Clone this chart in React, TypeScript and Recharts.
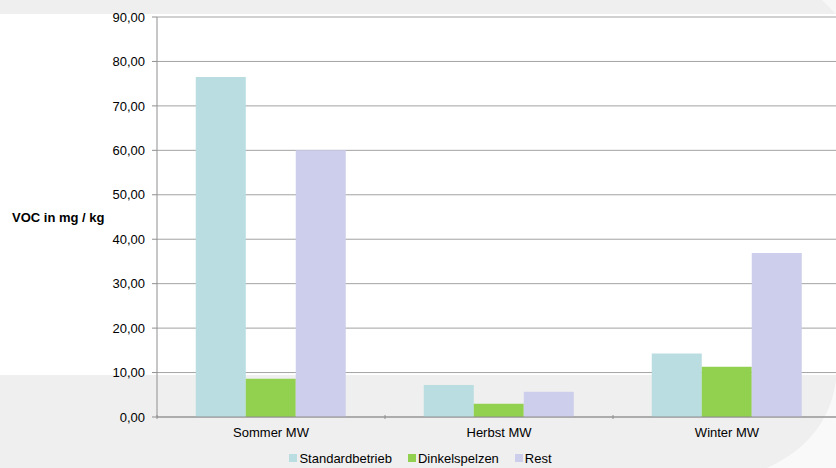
import { BarChart, Bar, XAxis, YAxis, CartesianGrid, Legend } from 'recharts';

const categories = ['Sommer MW', 'Herbst MW', 'Winter MW'];
const standardbetrieb = [76.5, 7.2, 14.3];
const dinkelspelzen = [8.6, 3.0, 11.3];
const rest = [60.0, 5.7, 36.9];
const yTicks = [0, 10, 20, 30, 40, 50, 60, 70, 80, 90];

const series = [
  { key: 'standardbetrieb', name: 'Standardbetrieb', color: '#b9dde1' },
  { key: 'dinkelspelzen', name: 'Dinkelspelzen', color: '#92d050' },
  { key: 'rest', name: 'Rest', color: '#cdcdec' },
];

const data = categories.map((name, i) => ({
  name,
  standardbetrieb: standardbetrieb[i],
  dinkelspelzen: dinkelspelzen[i],
  rest: rest[i],
}));

const FONT = '"Liberation Sans", Arial, sans-serif';
const AXIS = '#8f8f8f';
const formatDE = (v: number) => v.toFixed(2).replace('.', ',');

// category label plus a small tick mark on the left band boundary
function CategoryTick(props: any) {
  const { x, y, payload } = props;
  const half = payload?.offset ?? 0;
  return (
    <g>
      <line x1={x - half} x2={x - half} y1={415} y2={419} stroke={AXIS} />
      <text x={x} y={y} dy="0.71em" textAnchor="middle" fontSize={13} fontFamily={FONT} fill="#000">
        {payload.value}
      </text>
    </g>
  );
}

function LegendContent() {
  return (
    <div style={{ display: 'flex', justifyContent: 'center', gap: 16, fontFamily: FONT, fontSize: 13, color: '#000', height: 18, alignItems: 'center' }}>
      {series.map((s) => (
        <div key={s.key} style={{ display: 'flex', alignItems: 'center' }}>
          <span style={{ display: 'inline-block', width: 8, height: 8, background: s.color, marginRight: 2 }} />
          <span>{s.name}</span>
        </div>
      ))}
    </div>
  );
}

export default function App() {
  return (
    <div
      style={{
        position: 'absolute',
        left: 0,
        top: 0,
        width: 836,
        height: 468,
        overflow: 'hidden',
        background: 'linear-gradient(to bottom, #efefef 0px, #efefef 14px, #ffffff 14px, #ffffff 375px, #efefef 375px)',
      }}
    >
      <svg width={836} height={468} style={{ position: 'absolute', left: 0, top: 0 }}>
        <path d="M836 380 Q828 440 767 468 L836 468 Z" fill="#f9f9f9" />
        <path d="M822 0 L836 0 L836 14 Z" fill="#f7f7f7" />
      </svg>
      <div style={{ position: 'absolute', left: 0, top: 0 }}>
        <BarChart
          width={841}
          height={468}
          data={data}
          margin={{ top: 17, right: 0, left: 0, bottom: 3 }}
          barCategoryGap="17%"
          barGap={0}
        >
          <CartesianGrid vertical={false} stroke="#a3a3a3" />
          <XAxis
            dataKey="name"
            height={30}
            tickLine={false}
            tickSize={4}
            tickMargin={7}
            axisLine={{ stroke: AXIS }}
            tick={<CategoryTick />}
            interval={0}
          />
          <YAxis
            width={157}
            domain={[0, 90]}
            ticks={yTicks}
            interval={0}
            tickFormatter={formatDE}
            tickSize={5}
            tickMargin={7}
            tickLine={{ stroke: AXIS }}
            axisLine={{ stroke: AXIS }}
            tick={{ fontSize: 13, fill: '#000', fontFamily: FONT }}
            label={{
              value: 'VOC in mg / kg',
              position: 'insideLeft',
              offset: 12,
              style: { fontSize: 13, fontWeight: 700, fill: '#000', fontFamily: FONT, textAnchor: 'start' },
            }}
          />
          <Legend verticalAlign="bottom" content={LegendContent} wrapperStyle={{ bottom: 1 }} />
          {series.map((s) => (
            <Bar key={s.key} dataKey={s.key} name={s.name} fill={s.color} isAnimationActive={false} />
          ))}
        </BarChart>
      </div>
    </div>
  );
}
